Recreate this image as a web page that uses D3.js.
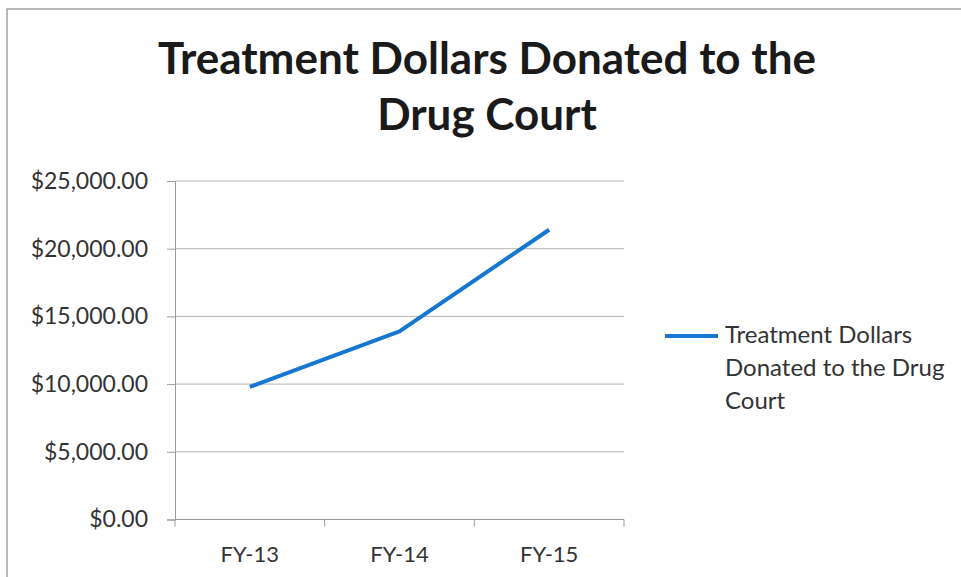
<!DOCTYPE html>
<html>
<head>
<meta charset="utf-8">
<script src="https://cdn.jsdelivr.net/npm/d3@7"></script>
<style>
  html, body { margin: 0; padding: 0; background: #fff; }
  svg { display: block; }
</style>
</head>
<body>
<svg id="chart" width="961" height="577"></svg>
<script>
// Chart data
const categories = ["FY-13", "FY-14", "FY-15"];
const donated = [9800, 13900, 21400];
const yTicks = [0, 5000, 10000, 15000, 20000, 25000];
const titleLines = ["Treatment Dollars Donated to the", "Drug Court"];
const seriesName = ["Treatment Dollars", "Donated to the Drug", "Court"];

const svg = d3.select("#chart");
const font = "Lato, 'Open Sans', sans-serif";

// Outer chart frame
svg.append("rect")
  .attr("x", 7).attr("y", 9).attr("width", 980).attr("height", 600)
  .attr("fill", "none").attr("stroke", "#8a8a8a").attr("stroke-width", 1.2);

// Title
svg.append("g").selectAll("text").data(titleLines).join("text")
  .attr("x", 487).attr("y", (d, i) => 74 + i * 56)
  .attr("text-anchor", "middle")
  .attr("font-family", font).attr("font-weight", 700)
  .attr("font-size", 44).attr("fill", "#1a1a1a")
  .text(d => d);

const plot = { left: 175, right: 624, top: 181, bottom: 519.5 };

const x = d3.scaleBand().domain(categories).range([plot.left, plot.right]);
const y = d3.scaleLinear().domain([0, 25000]).range([plot.bottom, plot.top]);

// Horizontal gridlines
svg.append("g").selectAll("line").data(yTicks.filter(d => d > 0)).join("line")
  .attr("x1", plot.left).attr("x2", plot.right)
  .attr("y1", d => y(d)).attr("y2", d => y(d))
  .attr("stroke", "#b5b5b5").attr("stroke-width", 1);

// Y axis
const yAxis = d3.axisLeft(y).tickValues(yTicks).tickSize(8).tickPadding(19)
  .tickFormat(d => "$" + d3.format(",.2f")(d));
const gy = svg.append("g").attr("transform", `translate(${plot.left},0)`).call(yAxis);
gy.select(".domain").attr("stroke", "#9a9a9a");
gy.selectAll(".tick line").attr("stroke", "#9a9a9a");
gy.selectAll("text").attr("font-family", font).attr("font-size", 23).attr("fill", "#333");

// X axis with ticks at band boundaries
const gx = svg.append("g").attr("transform", `translate(0,${plot.bottom})`);
gx.append("line").attr("x1", plot.left).attr("x2", plot.right)
  .attr("stroke", "#9a9a9a");
const boundaries = categories.map(c => x(c)).concat([x(categories[categories.length - 1]) + x.bandwidth()]);
gx.selectAll("line.tk").data(boundaries).join("line").attr("class", "tk")
  .attr("x1", d => d).attr("x2", d => d).attr("y1", 0).attr("y2", 7)
  .attr("stroke", "#9a9a9a");
gx.selectAll("text").data(categories).join("text")
  .attr("x", d => x(d) + x.bandwidth() / 2).attr("y", 42)
  .attr("text-anchor", "middle")
  .attr("font-family", font).attr("font-size", 22).attr("fill", "#333")
  .text(d => d);

// Data line
const line = d3.line()
  .x((d, i) => x(categories[i]) + x.bandwidth() / 2)
  .y(d => y(d));
svg.append("path").datum(donated)
  .attr("d", line)
  .attr("fill", "none").attr("stroke", "#1677d2")
  .attr("stroke-width", 4).attr("stroke-linejoin", "round");

// Legend
const lg = svg.append("g");
lg.append("line").attr("x1", 665).attr("x2", 718).attr("y1", 336).attr("y2", 336)
  .attr("stroke", "#1677d2").attr("stroke-width", 4);
lg.selectAll("text").data(seriesName).join("text")
  .attr("x", 725).attr("y", (d, i) => 343 + i * 33)
  .attr("font-family", font).attr("font-size", 24).attr("fill", "#333")
  .text(d => d);
</script>
</body>
</html>
